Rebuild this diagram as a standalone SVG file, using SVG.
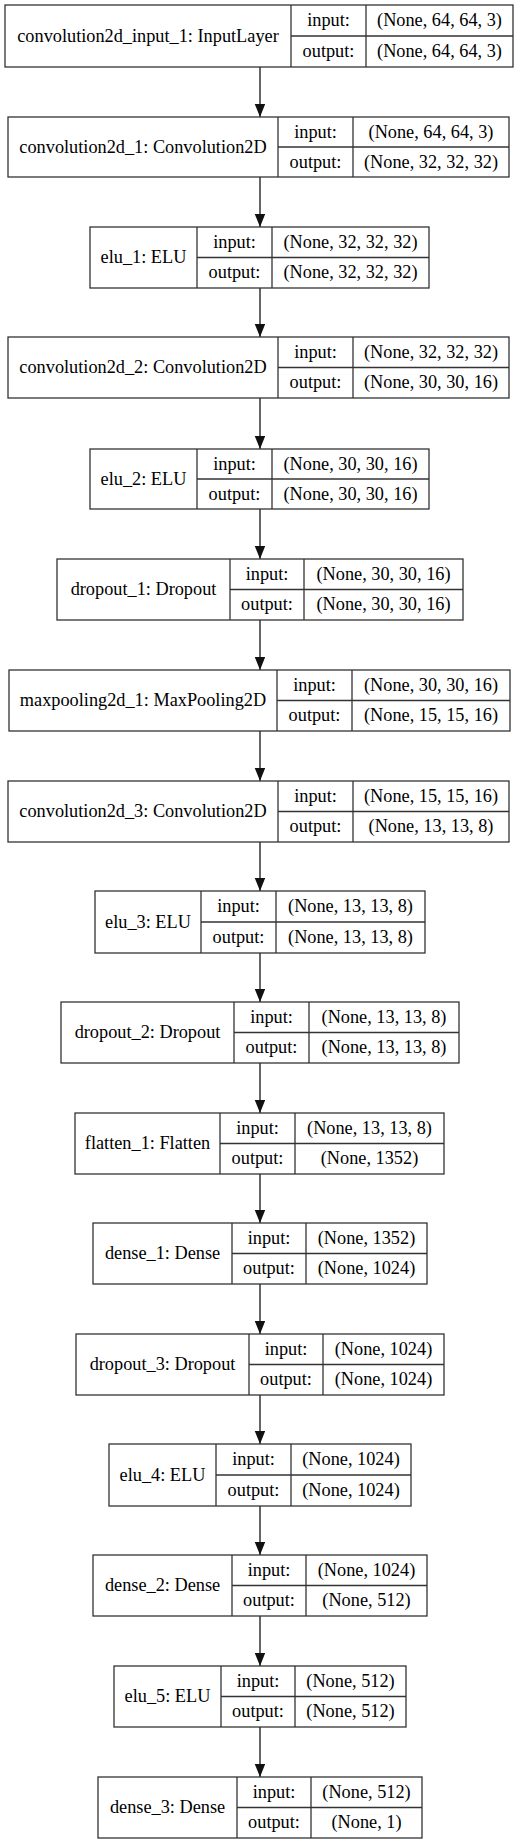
<svg xmlns="http://www.w3.org/2000/svg" width="520" height="1844" viewBox="0 0 520 1844">
<style>
.b{fill:#fff;stroke:#333;stroke-width:1.3}
.l{stroke:#333;stroke-width:1.3}
text{font-family:"Liberation Serif","Times New Roman",serif;font-size:18.3px;fill:#000;text-anchor:middle}
.e{stroke:#404040;stroke-width:1.6;fill:none}
</style>
<defs>
<marker id="ah" markerUnits="userSpaceOnUse" markerWidth="14" markerHeight="11" refX="13" refY="5.25" orient="auto">
<path d="M0,0 L13,5.25 L0,10.5 z" fill="#111"/>
</marker>
</defs>
<rect width="520" height="1844" fill="#fff"/>
<g id="edges">
<line class="e" x1="260" y1="67" x2="260" y2="117" marker-end="url(#ah)"/>
<line class="e" x1="260" y1="177" x2="260" y2="227" marker-end="url(#ah)"/>
<line class="e" x1="260" y1="288" x2="260" y2="337" marker-end="url(#ah)"/>
<line class="e" x1="260" y1="398" x2="260" y2="449" marker-end="url(#ah)"/>
<line class="e" x1="260" y1="509" x2="260" y2="559" marker-end="url(#ah)"/>
<line class="e" x1="260" y1="620" x2="260" y2="670" marker-end="url(#ah)"/>
<line class="e" x1="260" y1="731" x2="260" y2="781" marker-end="url(#ah)"/>
<line class="e" x1="260" y1="842" x2="260" y2="891" marker-end="url(#ah)"/>
<line class="e" x1="260" y1="953" x2="260" y2="1002" marker-end="url(#ah)"/>
<line class="e" x1="260" y1="1063" x2="260" y2="1113" marker-end="url(#ah)"/>
<line class="e" x1="260" y1="1174" x2="260" y2="1223" marker-end="url(#ah)"/>
<line class="e" x1="260" y1="1284" x2="260" y2="1334" marker-end="url(#ah)"/>
<line class="e" x1="260" y1="1395" x2="260" y2="1444" marker-end="url(#ah)"/>
<line class="e" x1="260" y1="1506" x2="260" y2="1555" marker-end="url(#ah)"/>
<line class="e" x1="260" y1="1616" x2="260" y2="1666" marker-end="url(#ah)"/>
<line class="e" x1="260" y1="1727" x2="260" y2="1777" marker-end="url(#ah)"/>
</g>
<g id="n1">
<rect class="b" x="5" y="5" width="508" height="62"/>
<line class="l" x1="291" y1="5" x2="291" y2="67"/><line class="l" x1="366" y1="5" x2="366" y2="67"/><line class="l" x1="291" y1="36" x2="513" y2="36"/>
<text x="148" y="41.8">convolution2d_input_1: InputLayer</text>
<text x="328.5" y="26.1">input:</text><text x="439.5" y="26.1">(None, 64, 64, 3)</text>
<text x="328.5" y="57.1">output:</text><text x="439.5" y="57.1">(None, 64, 64, 3)</text>
</g>
<g id="n2">
<rect class="b" x="8" y="117" width="501" height="60"/>
<line class="l" x1="278" y1="117" x2="278" y2="177"/><line class="l" x1="353" y1="117" x2="353" y2="177"/><line class="l" x1="278" y1="147" x2="509" y2="147"/>
<text x="143" y="152.8">convolution2d_1: Convolution2D</text>
<text x="315.5" y="137.6">input:</text><text x="431" y="137.6">(None, 64, 64, 3)</text>
<text x="315.5" y="167.6">output:</text><text x="431" y="167.6">(None, 32, 32, 32)</text>
</g>
<g id="n3">
<rect class="b" x="90" y="227" width="339" height="61"/>
<line class="l" x1="197" y1="227" x2="197" y2="288"/><line class="l" x1="272" y1="227" x2="272" y2="288"/><line class="l" x1="197" y1="257.5" x2="429" y2="257.5"/>
<text x="143.5" y="263.3">elu_1: ELU</text>
<text x="234.5" y="247.9">input:</text><text x="350.5" y="247.9">(None, 32, 32, 32)</text>
<text x="234.5" y="278.4">output:</text><text x="350.5" y="278.4">(None, 32, 32, 32)</text>
</g>
<g id="n4">
<rect class="b" x="8" y="337" width="501" height="61"/>
<line class="l" x1="278" y1="337" x2="278" y2="398"/><line class="l" x1="353" y1="337" x2="353" y2="398"/><line class="l" x1="278" y1="367.5" x2="509" y2="367.5"/>
<text x="143" y="373.3">convolution2d_2: Convolution2D</text>
<text x="315.5" y="357.9">input:</text><text x="431" y="357.9">(None, 32, 32, 32)</text>
<text x="315.5" y="388.4">output:</text><text x="431" y="388.4">(None, 30, 30, 16)</text>
</g>
<g id="n5">
<rect class="b" x="90" y="449" width="339" height="60"/>
<line class="l" x1="197" y1="449" x2="197" y2="509"/><line class="l" x1="272" y1="449" x2="272" y2="509"/><line class="l" x1="197" y1="479" x2="429" y2="479"/>
<text x="143.5" y="484.8">elu_2: ELU</text>
<text x="234.5" y="469.6">input:</text><text x="350.5" y="469.6">(None, 30, 30, 16)</text>
<text x="234.5" y="499.6">output:</text><text x="350.5" y="499.6">(None, 30, 30, 16)</text>
</g>
<g id="n6">
<rect class="b" x="57" y="559" width="406" height="61"/>
<line class="l" x1="230" y1="559" x2="230" y2="620"/><line class="l" x1="304" y1="559" x2="304" y2="620"/><line class="l" x1="230" y1="589.5" x2="463" y2="589.5"/>
<text x="143.5" y="595.3">dropout_1: Dropout</text>
<text x="267" y="579.9">input:</text><text x="383.5" y="579.9">(None, 30, 30, 16)</text>
<text x="267" y="610.4">output:</text><text x="383.5" y="610.4">(None, 30, 30, 16)</text>
</g>
<g id="n7">
<rect class="b" x="9" y="670" width="501" height="61"/>
<line class="l" x1="277" y1="670" x2="277" y2="731"/><line class="l" x1="352" y1="670" x2="352" y2="731"/><line class="l" x1="277" y1="700.5" x2="510" y2="700.5"/>
<text x="143" y="706.3">maxpooling2d_1: MaxPooling2D</text>
<text x="314.5" y="690.9">input:</text><text x="431" y="690.9">(None, 30, 30, 16)</text>
<text x="314.5" y="721.4">output:</text><text x="431" y="721.4">(None, 15, 15, 16)</text>
</g>
<g id="n8">
<rect class="b" x="8" y="781" width="501" height="61"/>
<line class="l" x1="278" y1="781" x2="278" y2="842"/><line class="l" x1="353" y1="781" x2="353" y2="842"/><line class="l" x1="278" y1="811.5" x2="509" y2="811.5"/>
<text x="143" y="817.3">convolution2d_3: Convolution2D</text>
<text x="315.5" y="801.9">input:</text><text x="431" y="801.9">(None, 15, 15, 16)</text>
<text x="315.5" y="832.4">output:</text><text x="431" y="832.4">(None, 13, 13, 8)</text>
</g>
<g id="n9">
<rect class="b" x="95" y="891" width="330" height="62"/>
<line class="l" x1="201" y1="891" x2="201" y2="953"/><line class="l" x1="276" y1="891" x2="276" y2="953"/><line class="l" x1="201" y1="922" x2="425" y2="922"/>
<text x="148" y="927.8">elu_3: ELU</text>
<text x="238.5" y="912.1">input:</text><text x="350.5" y="912.1">(None, 13, 13, 8)</text>
<text x="238.5" y="943.1">output:</text><text x="350.5" y="943.1">(None, 13, 13, 8)</text>
</g>
<g id="n10">
<rect class="b" x="61" y="1002" width="398" height="61"/>
<line class="l" x1="234" y1="1002" x2="234" y2="1063"/><line class="l" x1="309" y1="1002" x2="309" y2="1063"/><line class="l" x1="234" y1="1032.5" x2="459" y2="1032.5"/>
<text x="147.5" y="1038.3">dropout_2: Dropout</text>
<text x="271.5" y="1022.9">input:</text><text x="384" y="1022.9">(None, 13, 13, 8)</text>
<text x="271.5" y="1053.4">output:</text><text x="384" y="1053.4">(None, 13, 13, 8)</text>
</g>
<g id="n11">
<rect class="b" x="75" y="1113" width="369" height="61"/>
<line class="l" x1="220" y1="1113" x2="220" y2="1174"/><line class="l" x1="295" y1="1113" x2="295" y2="1174"/><line class="l" x1="220" y1="1143.5" x2="444" y2="1143.5"/>
<text x="147.5" y="1149.3">flatten_1: Flatten</text>
<text x="257.5" y="1133.9">input:</text><text x="369.5" y="1133.9">(None, 13, 13, 8)</text>
<text x="257.5" y="1164.4">output:</text><text x="369.5" y="1164.4">(None, 1352)</text>
</g>
<g id="n12">
<rect class="b" x="93" y="1223" width="334" height="61"/>
<line class="l" x1="232" y1="1223" x2="232" y2="1284"/><line class="l" x1="306" y1="1223" x2="306" y2="1284"/><line class="l" x1="232" y1="1253.5" x2="427" y2="1253.5"/>
<text x="162.5" y="1259.3">dense_1: Dense</text>
<text x="269" y="1243.9">input:</text><text x="366.5" y="1243.9">(None, 1352)</text>
<text x="269" y="1274.4">output:</text><text x="366.5" y="1274.4">(None, 1024)</text>
</g>
<g id="n13">
<rect class="b" x="76" y="1334" width="368" height="61"/>
<line class="l" x1="249" y1="1334" x2="249" y2="1395"/><line class="l" x1="323" y1="1334" x2="323" y2="1395"/><line class="l" x1="249" y1="1364.5" x2="444" y2="1364.5"/>
<text x="162.5" y="1370.3">dropout_3: Dropout</text>
<text x="286" y="1354.9">input:</text><text x="383.5" y="1354.9">(None, 1024)</text>
<text x="286" y="1385.4">output:</text><text x="383.5" y="1385.4">(None, 1024)</text>
</g>
<g id="n14">
<rect class="b" x="109" y="1444" width="302" height="62"/>
<line class="l" x1="216" y1="1444" x2="216" y2="1506"/><line class="l" x1="291" y1="1444" x2="291" y2="1506"/><line class="l" x1="216" y1="1475" x2="411" y2="1475"/>
<text x="162.5" y="1480.8">elu_4: ELU</text>
<text x="253.5" y="1465.1">input:</text><text x="351" y="1465.1">(None, 1024)</text>
<text x="253.5" y="1496.1">output:</text><text x="351" y="1496.1">(None, 1024)</text>
</g>
<g id="n15">
<rect class="b" x="93" y="1555" width="334" height="61"/>
<line class="l" x1="232" y1="1555" x2="232" y2="1616"/><line class="l" x1="306" y1="1555" x2="306" y2="1616"/><line class="l" x1="232" y1="1585.5" x2="427" y2="1585.5"/>
<text x="162.5" y="1591.3">dense_2: Dense</text>
<text x="269" y="1575.9">input:</text><text x="366.5" y="1575.9">(None, 1024)</text>
<text x="269" y="1606.4">output:</text><text x="366.5" y="1606.4">(None, 512)</text>
</g>
<g id="n16">
<rect class="b" x="114" y="1666" width="292" height="61"/>
<line class="l" x1="221" y1="1666" x2="221" y2="1727"/><line class="l" x1="295" y1="1666" x2="295" y2="1727"/><line class="l" x1="221" y1="1696.5" x2="406" y2="1696.5"/>
<text x="167.5" y="1702.3">elu_5: ELU</text>
<text x="258" y="1686.9">input:</text><text x="350.5" y="1686.9">(None, 512)</text>
<text x="258" y="1717.4">output:</text><text x="350.5" y="1717.4">(None, 512)</text>
</g>
<g id="n17">
<rect class="b" x="98" y="1777" width="324" height="61"/>
<line class="l" x1="237" y1="1777" x2="237" y2="1838"/><line class="l" x1="311" y1="1777" x2="311" y2="1838"/><line class="l" x1="237" y1="1807.5" x2="422" y2="1807.5"/>
<text x="167.5" y="1813.3">dense_3: Dense</text>
<text x="274" y="1797.9">input:</text><text x="366.5" y="1797.9">(None, 512)</text>
<text x="274" y="1828.4">output:</text><text x="366.5" y="1828.4">(None, 1)</text>
</g>
</svg>
